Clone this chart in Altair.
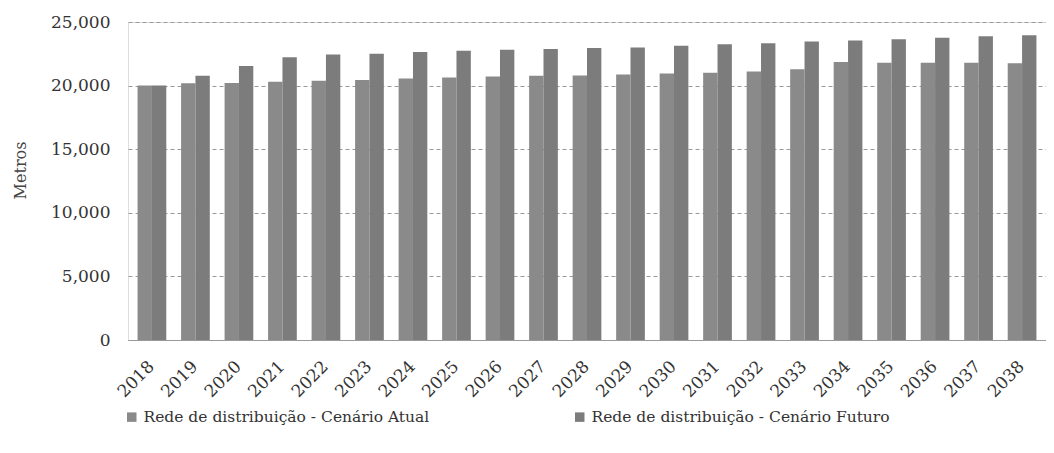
import altair as alt
import pandas as pd

years = [str(y) for y in range(2018, 2039)]
atual = [20000, 20180, 20200, 20300, 20380, 20440, 20560, 20640, 20720, 20770, 20790,
         20870, 20950, 21020, 21100, 21280, 21850, 21800, 21800, 21800, 21750]
futuro = [20000, 20770, 21540, 22230, 22440, 22510, 22640, 22740, 22820, 22870, 22950,
          23000, 23130, 23260, 23330, 23460, 23540, 23640, 23770, 23870, 23950]
series = ["Rede de distribuição - Cenário Atual", "Rede de distribuição - Cenário Futuro"]

rows = []
for i, y in enumerate(years):
    rows.append({"ano": y, "serie": series[0], "valor": atual[i]})
    rows.append({"ano": y, "serie": series[1], "valor": futuro[i]})
df = pd.DataFrame(rows)

FONT = "DejaVu Serif"

chart = alt.Chart(df).mark_bar().encode(
    x=alt.X("ano:N", sort=years, title=None,
            scale=alt.Scale(paddingInner=0.34, paddingOuter=0.22),
            axis=alt.Axis(labelAngle=-45, labelAlign="right", labelBaseline="top",
                          labelFont=FONT, labelFontSize=17, labelColor="#333",
                          ticks=False, domainColor="#999", labelPadding=18,
                          labelOffset=-6)),
    xOffset=alt.XOffset("serie:N", sort=series),
    y=alt.Y("valor:Q", title="Metros",
            scale=alt.Scale(domain=[0, 25000]),
            axis=alt.Axis(values=[0, 5000, 10000, 15000, 20000, 25000], format=",.0f",
                          labelFont=FONT, labelFontSize=17, labelColor="#333",
                          titleFont=FONT, titleFontSize=16, titleFontWeight="normal",
                          titleColor="#444", titlePadding=22, titleY=148,
                          domain=False, ticks=False, labelPadding=18,
                          gridDash=[4, 3], gridColor="#999", gridWidth=1)),
    color=alt.Color("serie:N", sort=series,
                    scale=alt.Scale(domain=series, range=["#8a8a8a", "#7c7c7c"]),
                    legend=alt.Legend(title=None, orient="none", direction="horizontal",
                                      legendX=-4, legendY=387,
                                      labelFont=FONT, labelFontSize=15.5, labelColor="#333",
                                      symbolType="square", symbolSize=90,
                                      symbolStrokeWidth=0, columnPadding=142,
                                      labelLimit=400)),
).properties(
    width=918, height=318,
    padding={"left": 120, "top": 14, "right": 0, "bottom": 105},
    autosize=alt.AutoSizeParams(type="none"),
).configure_view(stroke=None).configure(background="white")

chart.save("out.html", embed_options={"renderer": "svg", "actions": False})
